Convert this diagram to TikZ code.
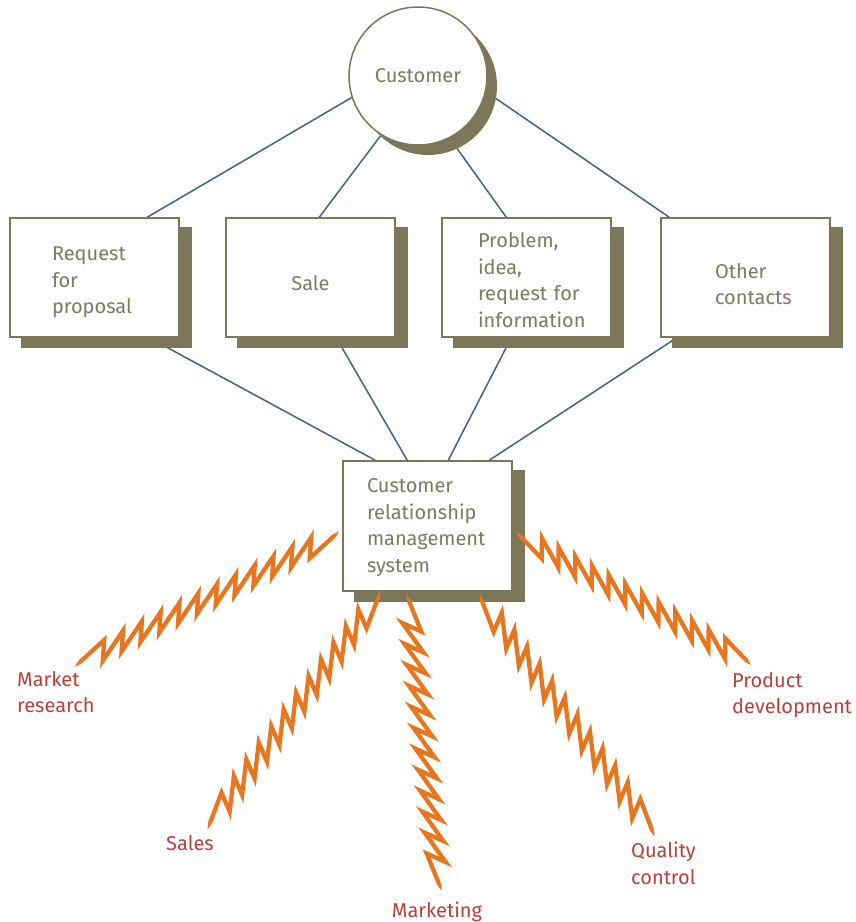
\documentclass[tikz,border=0pt]{standalone}
\usepackage{fontspec}
\setmainfont{Fira Sans}
\usetikzlibrary{calc}
\definecolor{olivec}{HTML}{7B7758}
\definecolor{olivetext}{HTML}{7D7A5E}
\definecolor{linec}{HTML}{3E6480}
\definecolor{boltc}{HTML}{E8761E}
\definecolor{labelc}{HTML}{B8403A}
\pgfdeclarelayer{bg}
\pgfsetlayers{bg,main}
\newcommand\mybolt[4]{%
  \pgfmathsetmacro\nn{#3+1.5}%
  \pgfmathtruncatemacro\nm{#3-1}%
  \coordinate (bzfirst) at ($(#1)!{1.5/\nn}!(#2)!-9pt!#4:(#2)$);
  \coordinate (bzlast) at ($(#1)!{#3/\nn}!(#2)!9pt!#4:(#2)$);
  \draw[boltline] (#1) \foreach \k in {0,...,\nm}{
     -- ($(#1)!{(\k+1.5)/\nn}!(#2)!-9pt!#4:(#2)$)
     -- ($(#1)!{(\k+1)/\nn}!(#2)!9pt!#4:(#2)$) } -- (#2);
  \fill[boltc] ($(#1)!2.15pt!90:(bzfirst)$) -- ($(#1)!-7pt!(bzfirst)$) -- ($(#1)!2.15pt!-90:(bzfirst)$) -- cycle;
  \fill[boltc] ($(#2)!2.15pt!90:(bzlast)$) -- ($(#2)!-7pt!(bzlast)$) -- ($(#2)!2.15pt!-90:(bzlast)$) -- cycle;}
\tikzset{
  txt/.style={font=\fontsize{20}{26.5}\selectfont},
  box/.style={txt, draw=olivec, line width=1.5pt, fill=white, minimum width=169pt,
     minimum height=119pt, inner xsep=0pt, inner ysep=0pt, text=olivetext, align=left},
  tdown/.style={execute at begin node={\rule{0pt}{#1}}},
  circ/.style={txt, circle, draw=olivec, line width=1.5pt, fill=white, minimum size=138pt,
     inner sep=0pt, text=olivetext},
  conn/.style={draw=linec, line width=1.5pt},
  shadowfill/.style={fill=olivec},
  boltline/.style={draw=boltc, line width=4.3pt, line join=miter, miter limit=20},
  lab/.style={txt, text=labelc, inner sep=0pt, align=left}
}
\begin{document}
\begin{tikzpicture}[x=1pt,y=-1pt]
\useasboundingbox (0,0) rectangle (855,922);
% nodes
\node[circ] (cust) at (418,76) {Customer};
\node[box, text width=85pt, tdown=24pt] (b1) at (94.5,277.5) {Request\\for\\proposal};
\node[box, tdown=26.5pt] (b2) at (310.5,277.5) {Sale};
\node[box, text width=97pt, tdown=20.5pt] (b3) at (526.5,277.5) {Problem,\\idea,\\request~for\\information};
\node[box, text width=61pt, tdown=28.5pt] (b4) at (745.5,277.5) {Other\\contacts};
\node[box, text width=121pt, minimum height=130pt, tdown=17pt] (crm) at (427.5,526) {Customer\\relationship\\management\\system};
% labels
\node[lab, anchor=north west] (lmr) at (17,671) {Market\\research};
\node[lab, anchor=north] (lsa) at (190,835) {Sales};
\node[lab, anchor=north] (lmk) at (437,902) {Marketing};
\node[lab, anchor=north west] (lqc) at (631,842) {Quality\\control};
\node[lab, anchor=north west] (lpd) at (732,672) {Product\\development};
\begin{pgfonlayer}{bg}
  \draw[conn] (cust.198) -- ($(b1.north west)+(138,0)$);
  \draw[conn] (cust.238) -- ($(b2.north west)+(94,0)$);
  \draw[conn] (cust.297) -- ($(b3.north west)+(65,0)$);
  \draw[conn] (cust.347) -- ($(b4.north west)+(9,0)$);
  \draw[conn] ($(b1.south west)+(140,0)$) -- ($(crm.north west)+(33,0)$);
  \draw[conn] ($(b2.south west)+(111,0)$) -- ($(crm.north west)+(65,0)$);
  \draw[conn] ($(b3.south west)+(70,0)$) -- ($(crm.north west)+(106,0)$);
  \draw[conn] ($(b4.south west)+(16.5,0)$) -- ($(crm.north west)+(147,0)$);
  \fill[shadowfill] ($(cust.center)+(10,10)$) circle (69);
  \foreach \b in {b1,b2,b3,b4,crm}{
    \fill[shadowfill] ($(\b.south west)+(12,10)$) rectangle ($(\b.north east)+(12,10)$);
  }
\end{pgfonlayer}
% bolts
\coordinate (mrA) at (334,536); \coordinate (mrB) at (80,662);
\coordinate (saA) at (378,598); \coordinate (saB) at (210,823);
\coordinate (mkA) at (409,601); \coordinate (mkB) at (439,884);
\coordinate (qcA) at (482,601); \coordinate (qcB) at (652,830);
\coordinate (pdA) at (521,537); \coordinate (pdB) at (746,660);
\mybolt{mrA}{mrB}{12}{-90}
\mybolt{saA}{saB}{12}{-90}
\mybolt{mkA}{mkB}{12}{-90}
\mybolt{qcA}{qcB}{12}{90}
\mybolt{pdA}{pdB}{12}{90}
\end{tikzpicture}
\end{document}
